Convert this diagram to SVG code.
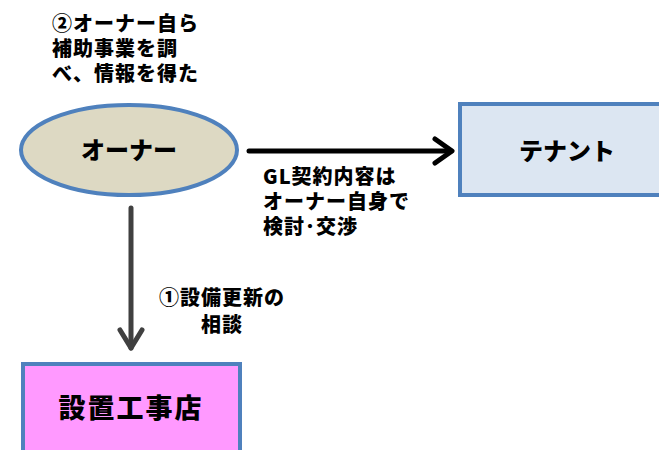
<svg xmlns="http://www.w3.org/2000/svg" width="659" height="450" viewBox="0 0 659 450">
<style>
text{font-family:"Noto Sans CJK JP","Noto Sans",sans-serif;font-weight:900;fill:#000}
.lbl{font-size:20px;letter-spacing:1px}
.node{stroke:#4F81BD;stroke-width:4}
.big{font-size:24px}
</style>
<rect width="659" height="450" fill="#fff"/>
<g id="owner">
<ellipse class="node" cx="129" cy="150" rx="108" ry="45" fill="#DDD9C3"/>
<text class="big" x="129" y="159" text-anchor="middle">オーナー</text>
</g>
<g id="tenant">
<rect class="node" x="460" y="104" width="205" height="91" fill="#DCE6F2"/>
<text class="big" x="567" y="160" text-anchor="middle">テナント</text>
</g>
<g id="installer">
<rect class="node" x="23" y="364" width="217" height="100" fill="#FF99FF"/>
<text x="131" y="418" text-anchor="middle" font-size="27" letter-spacing="2">設置工事店</text>
</g>
<g id="connectors" fill="none" stroke-linecap="round" stroke-linejoin="round">
<line x1="249" y1="151" x2="451" y2="151" stroke="#000" stroke-width="5"/>
<polyline points="435,139 452,151 435,163" stroke="#000" stroke-width="5"/>
<line x1="131" y1="208" x2="131" y2="348" stroke="#404040" stroke-width="5"/>
<polyline points="120,330 131,348 142,330" stroke="#404040" stroke-width="5"/>
</g>
<g id="labels">
<text class="lbl"><tspan x="52" y="31">②オーナー自ら</tspan><tspan x="52" y="56">補助事業を調</tspan><tspan x="52" y="81">べ、情報を得た</tspan></text>
<text class="lbl"><tspan x="263" y="184">GL契約内容は</tspan><tspan x="263" y="209">オーナー自身で</tspan><tspan x="263" y="234">検討･交渉</tspan></text>
<text class="lbl" text-anchor="middle"><tspan x="222" y="305">①設備更新の</tspan><tspan x="222" y="332">相談</tspan></text>
</g>
</svg>
